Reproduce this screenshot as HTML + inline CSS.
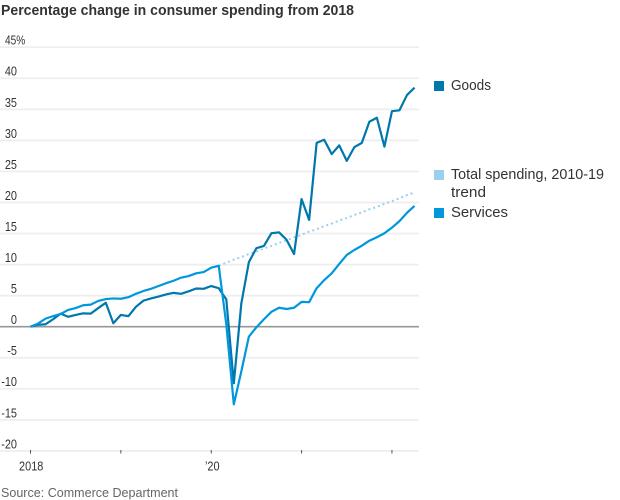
<!DOCTYPE html>
<html lang="en">
<head>
<meta charset="utf-8">
<title>Percentage change in consumer spending from 2018</title>
<style>
html,body{margin:0;padding:0;background:#fff;width:620px;height:500px;overflow:hidden}
svg{display:block}
text{font-family:"Liberation Sans",sans-serif}
</style>
</head>
<body>
<svg id="chart" width="620" height="500" viewBox="0 0 620 500" xmlns="http://www.w3.org/2000/svg">
  <rect x="0" y="0" width="620" height="500" fill="#fff"/>
  <text x="1" y="15" font-size="14.5" font-weight="700" fill="#333" textLength="353" lengthAdjust="spacingAndGlyphs">Percentage change in consumer spending from 2018</text>
  <g id="grid"></g>
  <g id="ylabels"></g>
  <g id="xaxis"></g>
  <g id="series"></g>
  <g>
    <g>
      <rect x="434" y="81" width="10" height="10" fill="#0077ad"/>
      <text x="451" y="90" font-size="14.5" fill="#333" textLength="40" lengthAdjust="spacingAndGlyphs">Goods</text>
    </g>
    <g>
      <rect x="434" y="170" width="10" height="10" fill="#9bcff0"/>
      <text x="451" y="179" font-size="14.5" fill="#333" textLength="153" lengthAdjust="spacingAndGlyphs">Total spending, 2010-19</text>
      <text x="451" y="197" font-size="14.5" fill="#333" textLength="35" lengthAdjust="spacingAndGlyphs">trend</text>
    </g>
    <g>
      <rect x="434" y="208" width="10" height="10" fill="#0098db"/>
      <text x="451" y="217" font-size="14.5" fill="#333" textLength="57" lengthAdjust="spacingAndGlyphs">Services</text>
    </g>
  </g>
  <text x="1" y="497" font-size="13" fill="#666" textLength="177" lengthAdjust="spacingAndGlyphs">Source: Commerce Department</text>
</svg>
<script>
var yTicks = [45, 40, 35, 30, 25, 20, 15, 10, 5, 0, -5, -10, -15, -20];
var xTickMonths = [0, 12, 24, 36, 48];
var xTickLabels = ['2018', '', '\u201920', '', ''];
var goods = [0, 0.3, 0.4, 1.2, 2.1, 1.6, 1.9, 2.15, 2.1, 3.0, 3.85, 0.55, 1.9, 1.7, 3.2, 4.2, 4.55, 4.85, 5.2, 5.45, 5.3, 5.7, 6.15, 6.1, 6.55, 6.2, 4.4, -9.1, 3.77, 10.4, 12.65, 13.0, 15.05, 15.2, 14.0, 11.7, 20.55, 17.2, 29.6, 30.1, 27.8, 29.2, 26.7, 28.9, 29.6, 33.0, 33.65, 29.0, 34.7, 34.85, 37.3, 38.5];
var services = [0, 0.5, 1.3, 1.7, 2.05, 2.7, 3.0, 3.45, 3.55, 4.15, 4.45, 4.55, 4.5, 4.75, 5.3, 5.75, 6.1, 6.55, 7.0, 7.4, 7.9, 8.15, 8.6, 8.8, 9.5, 9.8, 0.4, -12.5, -7.2, -1.6, -0.1, 1.2, 2.4, 3.05, 2.85, 3.05, 4.0, 3.95, 6.2, 7.5, 8.6, 10.1, 11.55, 12.35, 13.05, 13.85, 14.4, 15.05, 15.95, 17.0, 18.35, 19.45];
var trendStartMonth = 25;
var trend = [9.8, 10.3, 10.8, 11.2, 11.7, 12.1, 12.6, 13.0, 13.5, 13.9, 14.4, 14.8, 15.3, 15.7, 16.2, 16.6, 17.1, 17.5, 18.0, 18.4, 18.9, 19.3, 19.8, 20.2, 20.7, 21.2, 21.6];

var NS = 'http://www.w3.org/2000/svg';
function xScale(month) { return 30.5 + month * 7.53; }
function yScale(value) { return 326.7 - value * 6.21; }
function make(tag, attrs, parent) {
  var el = document.createElementNS(NS, tag);
  for (var k in attrs) { el.setAttribute(k, attrs[k]); }
  parent.appendChild(el);
  return el;
}
function pathFrom(values, startMonth) {
  var d = '';
  for (var i = 0; i < values.length; i++) {
    d += (i ? 'L' : 'M') + xScale(i + startMonth).toFixed(2) + ' ' + yScale(values[i]).toFixed(2);
  }
  return d;
}

var grid = document.getElementById('grid');
var ylabels = document.getElementById('ylabels');
yTicks.forEach(function (t) {
  if (t !== 0) {
    var gl = make('line', { x1: 0, x2: 419, y1: yScale(t), y2: yScale(t), stroke: '#eeeeee', 'stroke-width': 1.7 }, grid);
    
    
  }
  var label = make('text', {
    'text-anchor': t === 45 ? 'start' : 'end',
    transform: 'translate(' + (t === 45 ? 5 : 17) + ',' + (yScale(t) - 2.6) + ') scale(' + (t === 45 ? 0.78 : 0.84) + ',1)',
    'font-size': 13, fill: '#333'
  }, ylabels);
  label.textContent = t === 45 ? '45%' : String(t);
  
  
});

var xaxis = document.getElementById('xaxis');
var zero = make('line', { x1: 0, x2: 419, y1: yScale(0), y2: yScale(0), stroke: '#979797', 'stroke-width': 1.7 }, xaxis);


xTickMonths.forEach(function (m, i) {
  var tick = make('line', { x1: xScale(m), x2: xScale(m), y1: 450, y2: 453.5, stroke: '#555', 'stroke-width': 1 }, xaxis);
  
  
  if (xTickLabels[i]) {
    var tl = make('text', {
      'text-anchor': 'middle',
      transform: 'translate(' + (xScale(m) + (i === 0 ? 0.7 : 1)) + ',470.5) scale(0.84,1)',
      'font-size': 13, fill: '#333'
    }, xaxis);
    tl.textContent = xTickLabels[i];
    
    
  }
});

var seriesGroup = document.getElementById('series');
var trendLine = make('path', { d: pathFrom(trend, trendStartMonth), fill: 'none', stroke: '#9bcff0', 'stroke-width': 2, 'stroke-dasharray': '2 3' }, seriesGroup);


var goodsLine = make('path', { d: pathFrom(goods, 0), fill: 'none', stroke: '#0077ad', 'stroke-width': 2.2, 'stroke-linejoin': 'round' }, seriesGroup);


var servicesLine = make('path', { d: pathFrom(services, 0), fill: 'none', stroke: '#0098db', 'stroke-width': 2.2, 'stroke-linejoin': 'round' }, seriesGroup);


</script>
</body>
</html>
